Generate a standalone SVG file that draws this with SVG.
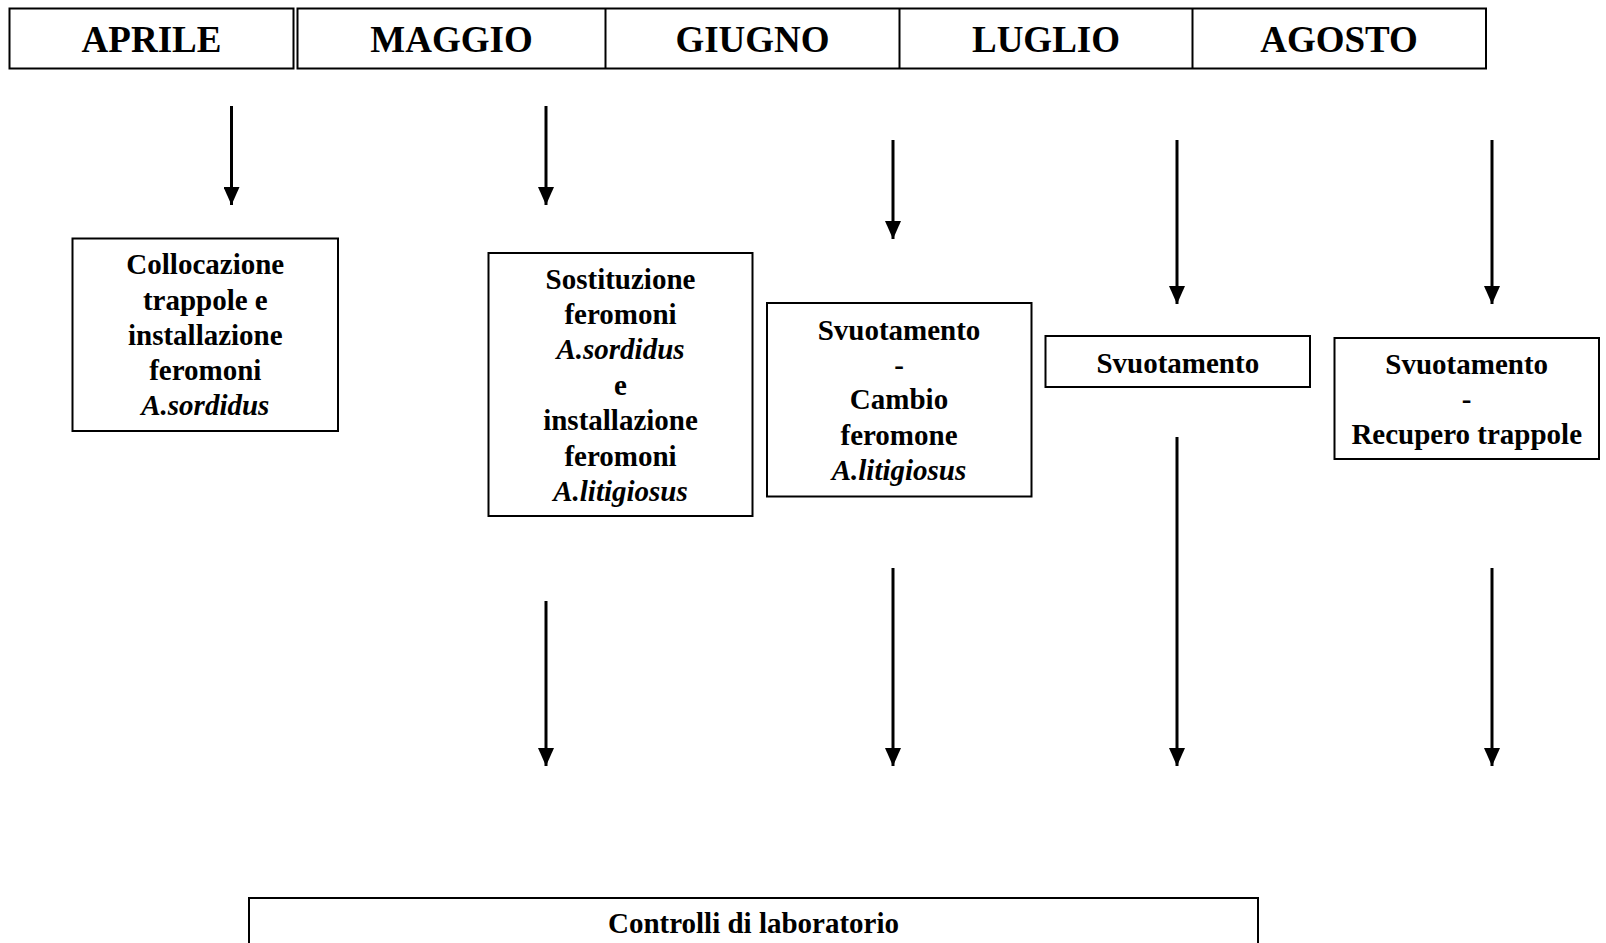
<svg xmlns="http://www.w3.org/2000/svg" width="1606" height="943" viewBox="0 0 1606 943">
<defs>
<style>
.box{fill:#fff;stroke:#000;stroke-width:2}
.hdr{font-family:"Liberation Serif","Times New Roman",serif;font-weight:bold;font-size:37px;text-anchor:middle;fill:#000}
.t{font-family:"Liberation Serif","Times New Roman",serif;font-weight:bold;font-size:29px;text-anchor:middle;fill:#000}
.i{font-style:italic}
.arr{stroke:#000;stroke-width:3;fill:none;marker-end:url(#ah)}
</style>
<marker id="ah" markerUnits="userSpaceOnUse" markerWidth="18" markerHeight="16" refX="18" refY="8" orient="auto" viewBox="0 0 18 16">
<path d="M0,0 L18,8 L0,16 z" fill="#000"/>
</marker>
</defs>
<rect width="1606" height="943" fill="#fff"/>
<g id="header">
<rect class="box" x="9.5" y="8.5" width="284" height="60"/>
<rect class="box" x="297.5" y="8.5" width="1188.5" height="60"/>
<line x1="605.5" y1="8.5" x2="605.5" y2="68.5" stroke="#000" stroke-width="2"/>
<line x1="899.5" y1="8.5" x2="899.5" y2="68.5" stroke="#000" stroke-width="2"/>
<line x1="1192.5" y1="8.5" x2="1192.5" y2="68.5" stroke="#000" stroke-width="2"/>
<text class="hdr" x="151.5" y="52">APRILE</text>
<text class="hdr" x="451.5" y="52">MAGGIO</text>
<text class="hdr" x="752.5" y="52">GIUGNO</text>
<text class="hdr" x="1046" y="52">LUGLIO</text>
<text class="hdr" x="1339" y="52">AGOSTO</text>
</g>
<g id="connectors">
<line class="arr" x1="231.5" y1="106" x2="231.5" y2="205"/>
<line class="arr" x1="546" y1="106" x2="546" y2="205"/>
<line class="arr" x1="893" y1="140" x2="893" y2="239"/>
<line class="arr" x1="1177" y1="140" x2="1177" y2="304"/>
<line class="arr" x1="1492" y1="140" x2="1492" y2="304"/>
<line class="arr" x1="546" y1="601" x2="546" y2="766"/>
<line class="arr" x1="893" y1="568" x2="893" y2="766"/>
<line class="arr" x1="1177" y1="437" x2="1177" y2="766"/>
<line class="arr" x1="1492" y1="568" x2="1492" y2="766"/>
</g>
<g id="n1">
<rect class="box" x="72.5" y="238.5" width="265.5" height="192.5"/>
<text class="t" x="205.3" y="274">Collocazione</text>
<text class="t" x="205.3" y="310">trappole e</text>
<text class="t" x="205.3" y="345">installazione</text>
<text class="t" x="205.3" y="380">feromoni</text>
<text class="t i" x="205.3" y="415">A.sordidus</text>
</g>
<g id="n2">
<rect class="box" x="488.5" y="253" width="264" height="263"/>
<text class="t" x="620.5" y="289">Sostituzione</text>
<text class="t" x="620.5" y="324">feromoni</text>
<text class="t i" x="620.5" y="359">A.sordidus</text>
<text class="t" x="620.5" y="395">e</text>
<text class="t" x="620.5" y="430">installazione</text>
<text class="t" x="620.5" y="466">feromoni</text>
<text class="t i" x="620.5" y="501">A.litigiosus</text>
</g>
<g id="n3">
<rect class="box" x="767" y="303" width="264.5" height="193.5"/>
<text class="t" x="899" y="340">Svuotamento</text>
<text class="t" x="899" y="375">-</text>
<text class="t" x="899" y="409">Cambio</text>
<text class="t" x="899" y="445">feromone</text>
<text class="t i" x="899" y="480">A.litigiosus</text>
</g>
<g id="n4">
<rect class="box" x="1045.5" y="336" width="264.5" height="51"/>
<text class="t" x="1177.8" y="373">Svuotamento</text>
</g>
<g id="n5">
<rect class="box" x="1334.5" y="338" width="264.5" height="121"/>
<text class="t" x="1466.7" y="373.5">Svuotamento</text>
<text class="t" x="1466.7" y="409">-</text>
<text class="t" x="1466.7" y="444">Recupero trappole</text>
</g>
<g id="n6">
<rect class="box" x="249" y="898" width="1009" height="60"/>
<text class="t" x="753.5" y="933">Controlli di laboratorio</text>
</g>
</svg>
